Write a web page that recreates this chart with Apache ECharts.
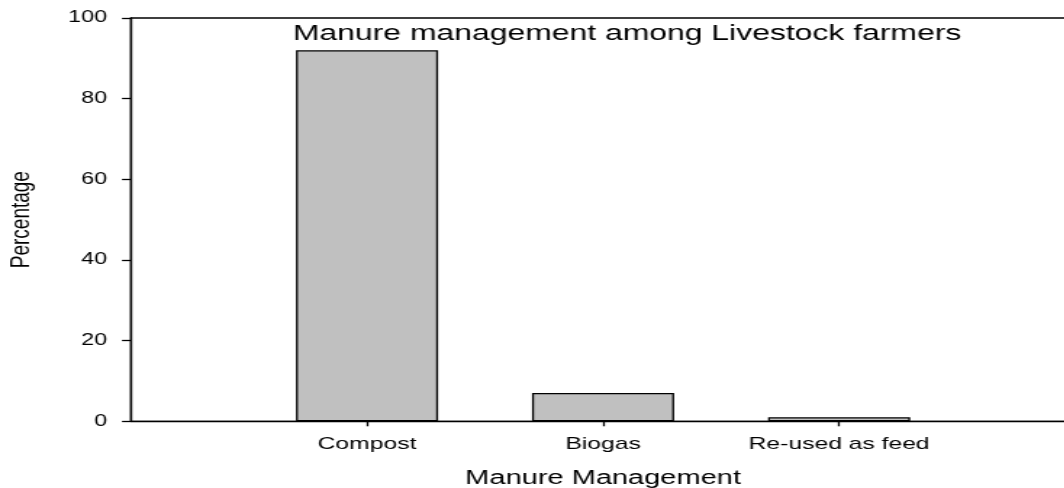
<!DOCTYPE html>
<html>
<head>
<meta charset="utf-8">
<title>Manure management among Livestock farmers</title>
<script src="https://cdn.jsdelivr.net/npm/echarts@6/dist/echarts.min.js"></script>
<style>
    html, body {
        margin: 0;
        padding: 0;
        background: #fff;
        overflow: hidden;
    }
    /* the reference picture is stretched sideways, so the chart is drawn narrower and widened */
    #chart {
        width: 734px;
        height: 488px;
        transform: scaleX(1.45);
        transform-origin: 0 0;
    }
</style>
</head>
<body>
<div id="chart"></div>
<script>
const categories = ["Compost", "Biogas", "Re-used as feed"];
const percentages = [92, 7, 1];
const yTicks = [0, 20, 40, 60, 80, 100];

const FONT = "'Liberation Sans', Arial, Helvetica, sans-serif";
const slots = categories.map((c, i) => i + 1);

const chart = echarts.init(document.getElementById("chart"));

const option = {
    animation: false,
    title: {
        text: "Manure management among Livestock farmers",
        left: 202,
        top: 23,
        padding: 0,
        textStyle: {
            fontFamily: FONT,
            fontSize: 22,
            fontWeight: "normal",
            color: "#000",
        },
    },
    grid: {
        left: 90.3,
        right: -7.5,
        top: 18,
        bottom: 66.7,
        outerBoundsMode: "none",
        show: true,
        borderColor: "#000",
        borderWidth: 1.3,
    },
    xAxis: {
        type: "value",
        min: 0,
        max: slots.length + 1,
        name: "Manure Management",
        nameLocation: "middle",
        nameGap: 47,
        nameTextStyle: { fontFamily: FONT, fontSize: 20, color: "#000" },
        axisLine: { show: true, lineStyle: { color: "#000", width: 1.4 } },
        axisTick: {
            show: true,
            customValues: slots,
            length: 5,
            lineStyle: { color: "#000", width: 1.3 },
        },
        axisLabel: {
            customValues: slots,
            margin: 15,
            fontFamily: FONT,
            fontSize: 17,
            color: "#000",
            formatter: (v) => categories[Math.round(v) - 1] || "",
        },
        splitLine: { show: false },
    },
    yAxis: {
        type: "value",
        min: yTicks[0],
        max: yTicks[yTicks.length - 1],
        interval: yTicks[1] - yTicks[0],
        name: "Percentage",
        nameLocation: "middle",
        nameGap: 66,
        nameTextStyle: { fontFamily: FONT, fontSize: 19, color: "#000" },
        axisLine: { show: true, lineStyle: { color: "#000", width: 1.4 } },
        axisTick: { show: true, length: 6.2, lineStyle: { color: "#000", width: 1.3 } },
        axisLabel: {
            margin: 16.5,
            fontFamily: FONT,
            fontSize: 16,
            color: "#000",
        },
        splitLine: { show: false },
    },
    series: [
        {
            type: "bar",
            barWidth: 98,
            data: percentages.map((v, i) => [slots[i], v]),
            itemStyle: {
                color: "#c0c0c0",
                borderColor: "#000",
                borderWidth: 1.3,
            },
        },
    ],
};

chart.setOption(option);
</script>
</body>
</html>
